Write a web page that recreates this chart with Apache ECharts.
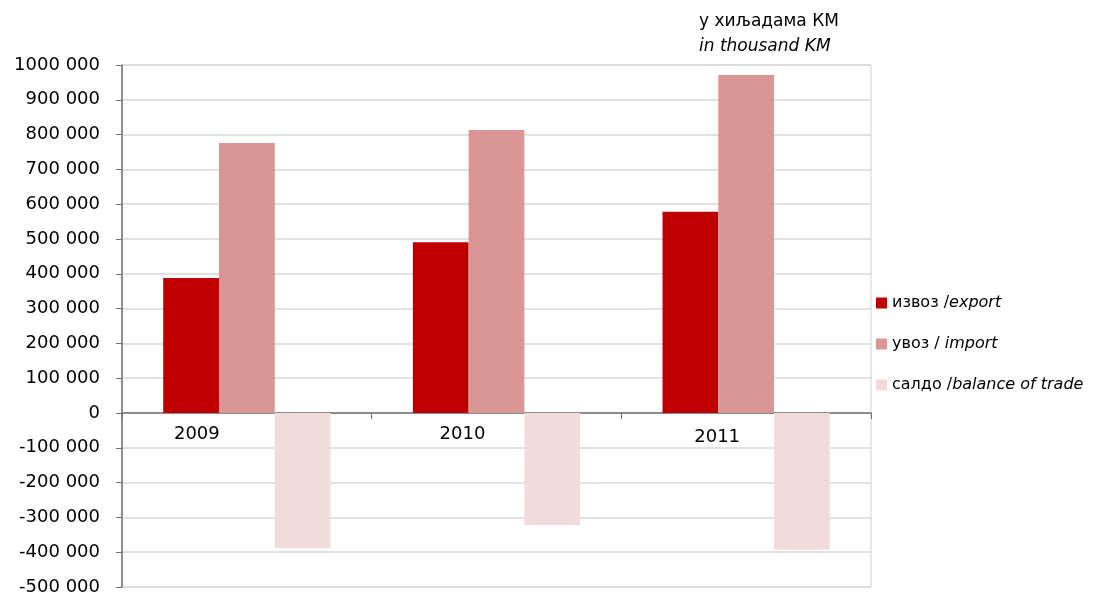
<!DOCTYPE html>
<html>
<head>
<meta charset="utf-8">
<script src="https://cdn.jsdelivr.net/npm/echarts@6/dist/echarts.min.js"></script>
<style>
  html, body { margin: 0; padding: 0; background: #fff; }
  #chart { width: 1095px; height: 595px; }
</style>
</head>
<body>
<div id="chart"></div>
<script>
var years = ["2009", "2010", "2011"];
var exportVals = [388000, 491000, 578000];
var importVals = [776000, 813000, 971000];
var balanceVals = [-388000, -322000, -393000];
var seriesNames = ["извоз /export", "увоз / import", "салдо /balance of trade"];
var yMin = -500000, yMax = 1000000, yStep = 100000;
// label shifts (Excel labels sat left of the category centre)
var labelPad = { "2009": 100, "2010": 68, "2011": 58 };

var font = "DejaVu Sans";
var gridTop = 65, gridBottom = 8, chartH = 595;
var chart = echarts.init(document.getElementById("chart"));

function legendText(name) {
  var i = name.indexOf("/");
  return "{n|" + name.slice(0, i + 1) + "}{i|" + name.slice(i + 1) + "}";
}

// distance from the plot bottom up to the zero line
var plotH = chartH - gridTop - gridBottom;
var zeroOffset = plotH * (0 - yMin) / (yMax - yMin);

chart.setOption({
  animation: false,
  textStyle: { fontFamily: font },
  title: {
    text: "{n|у хиљадама КМ}\n{i|in thousand KM}",
    left: 694,
    top: 4,
    textStyle: {
      fontWeight: "normal",
      rich: {
        n: { fontFamily: font, fontSize: 17, fontWeight: "normal", color: "#000", lineHeight: 25 },
        i: { fontFamily: font, fontSize: 17, fontWeight: "normal", fontStyle: "italic", color: "#000", lineHeight: 25 }
      }
    }
  },
  legend: {
    orient: "vertical",
    left: 876,
    top: 295,
    padding: 0,
    itemWidth: 11,
    itemHeight: 11,
    itemGap: 25,
    icon: "rect",
    data: seriesNames,
    formatter: legendText,
    textStyle: {
      rich: {
        n: { fontFamily: font, fontSize: 16, color: "#000", lineHeight: 20 },
        i: { fontFamily: font, fontSize: 16, fontStyle: "italic", color: "#000", lineHeight: 20 }
      }
    }
  },
  grid: {
    left: 122,
    right: 224,
    top: gridTop,
    bottom: gridBottom,
    containLabel: false,
    outerBoundsMode: "none",
    show: true,
    borderColor: "#d0d0d0",
    borderWidth: 1
  },
  xAxis: {
    type: "category",
    data: years,
    position: "bottom",
    offset: -zeroOffset,
    axisLine: { onZero: false, lineStyle: { color: "#707070", width: 1.5 } },
    axisTick: { show: true, length: 6, lineStyle: { color: "#707070" } },
    axisLabel: {
      margin: 12,
      formatter: function (v) { return "{a" + v + "|" + v + "}"; },
      rich: {
        a2009: { fontFamily: font, fontSize: 18, color: "#000", padding: [0, labelPad["2009"], 0, 0] },
        a2010: { fontFamily: font, fontSize: 18, color: "#000", padding: [0, labelPad["2010"], 0, 0] },
        a2011: { fontFamily: font, fontSize: 18, color: "#000", padding: [3, labelPad["2011"], 0, 0] }
      }
    }
  },
  yAxis: {
    type: "value",
    min: yMin,
    max: yMax,
    interval: yStep,
    axisLine: { show: true, lineStyle: { color: "#707070", width: 1.5 } },
    axisTick: { show: true, length: 6, lineStyle: { color: "#707070" } },
    splitLine: { lineStyle: { color: "#d9d9d9", width: 1.5 } },
    axisLabel: {
      margin: 22,
      fontSize: 18,
      color: "#000",
      fontFamily: font,
      formatter: function (v) {
        if (v === 0) return "0";
        return (v / 1000) + " 000";
      }
    }
  },
  series: [
    {
      name: seriesNames[0],
      type: "bar",
      data: exportVals,
      barGap: "0%",
      barCategoryGap: "33%",
      itemStyle: { color: "#C00000" }
    },
    {
      name: seriesNames[1],
      type: "bar",
      data: importVals,
      itemStyle: { color: "#D99694" }
    },
    {
      name: seriesNames[2],
      type: "bar",
      data: balanceVals,
      itemStyle: { color: "#F2DCDB" }
    }
  ]
});
</script>
</body>
</html>
